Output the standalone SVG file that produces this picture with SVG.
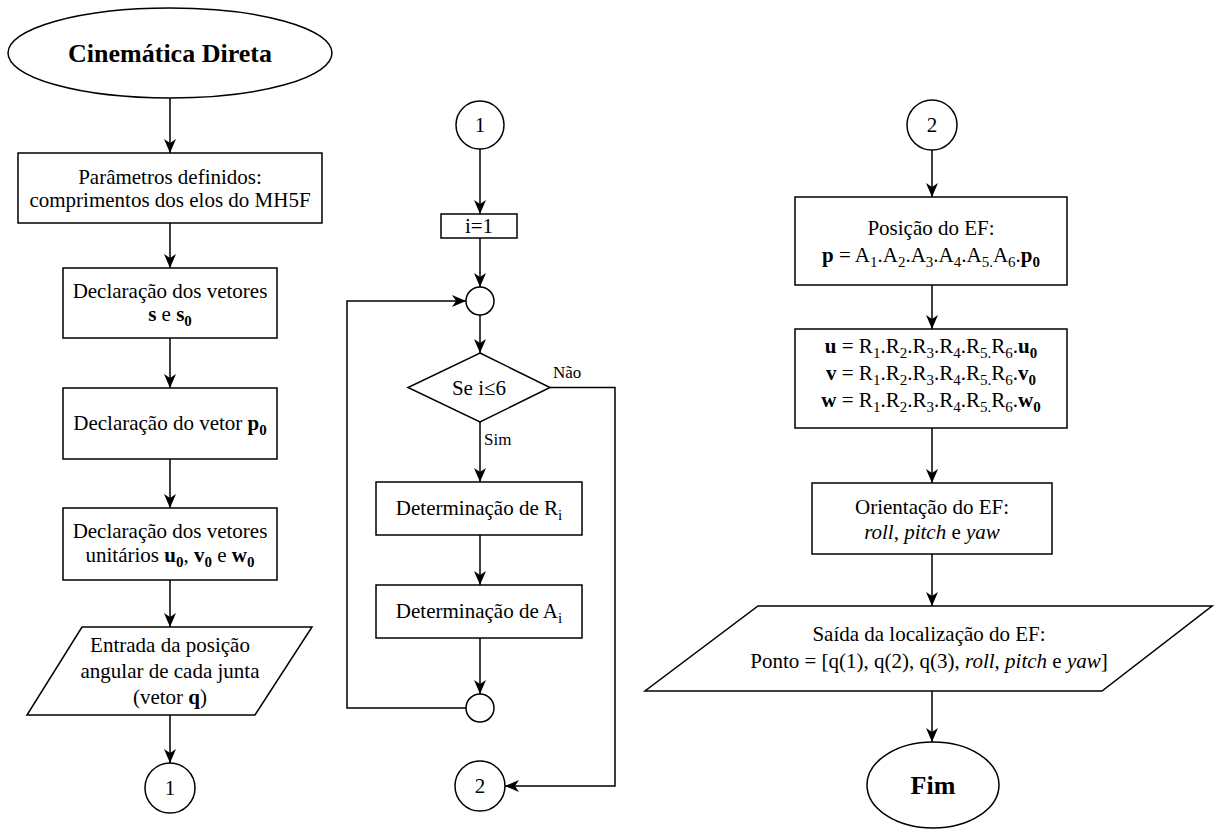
<svg xmlns="http://www.w3.org/2000/svg" width="1214" height="830" viewBox="0 0 1214 830" font-family="'Liberation Serif', 'DejaVu Serif', serif">
<style>
.n{fill:#fff;stroke:#000;stroke-width:1.5}
.c{fill:none;stroke:#000;stroke-width:1.5;marker-end:url(#arr)}
text{font-family:'Liberation Serif','DejaVu Serif',serif;font-size:21px;fill:#000;text-anchor:middle}
.b{font-weight:bold}
.i{font-style:italic}
.s{font-size:15px}
.lab{font-size:17px;text-anchor:start}
.t{font-size:26px;font-weight:bold}
</style>
<defs>
<marker id="arr" markerUnits="userSpaceOnUse" markerWidth="14" markerHeight="12" refX="14" refY="6" orient="auto" viewBox="0 0 14 12">
<path d="M0,0 L14,6 L0,12 L4,6 z" fill="#000"/>
</marker>
</defs>
<g id="connectors">
<line class="c" x1="170" y1="98" x2="170" y2="153"/>
<line class="c" x1="170" y1="223" x2="170" y2="268"/>
<line class="c" x1="170" y1="338" x2="170" y2="388"/>
<line class="c" x1="170" y1="459" x2="170" y2="508"/>
<line class="c" x1="170" y1="580" x2="170" y2="627"/>
<line class="c" x1="170" y1="715" x2="170" y2="763"/>
<line class="c" x1="480" y1="149" x2="480" y2="214"/>
<line class="c" x1="480" y1="238" x2="480" y2="287"/>
<line class="c" x1="480" y1="315" x2="480" y2="353"/>
<line class="c" x1="480" y1="422" x2="480" y2="482"/>
<line class="c" x1="480" y1="535" x2="480" y2="585"/>
<line class="c" x1="480" y1="638" x2="480" y2="694"/>
<polyline class="c" points="466,708 347,708 347,301 466,301"/>
<polyline class="c" points="550,387.5 615,387.5 615,786 505,786"/>
<line class="c" x1="932" y1="150" x2="932" y2="197"/>
<line class="c" x1="932" y1="285" x2="932" y2="329"/>
<line class="c" x1="932" y1="428" x2="932" y2="483"/>
<line class="c" x1="932" y1="554" x2="932" y2="606"/>
<line class="c" x1="932" y1="691" x2="932" y2="742"/>
<text class="lab" x="553" y="378">Não</text>
<text class="lab" x="484" y="445">Sim</text>
</g>
<g id="start">
<ellipse class="n" cx="170" cy="53" rx="162" ry="45"/>
<text class="t" x="170" y="62">Cinemática Direta</text>
</g>
<g id="params">
<rect class="n" x="18" y="153" width="304" height="70"/>
<text x="170" y="183.5">Parâmetros definidos:</text>
<text x="170" y="206.5">comprimentos dos elos do MH5F</text>
</g>
<g id="decl-s">
<rect class="n" x="63" y="268" width="214" height="70"/>
<text x="170" y="298">Declaração dos vetores</text>
<text x="170" y="321"><tspan class="b">s</tspan> e <tspan class="b">s</tspan><tspan class="b s" dy="5">0</tspan></text>
</g>
<g id="decl-p">
<rect class="n" x="63" y="388" width="214" height="71"/>
<text x="170" y="430">Declaração do vetor <tspan class="b">p</tspan><tspan class="b s" dy="5">0</tspan></text>
</g>
<g id="decl-uvw">
<rect class="n" x="63" y="508" width="214" height="72"/>
<text x="170" y="538">Declaração dos vetores</text>
<text x="170" y="562">unitários <tspan class="b">u</tspan><tspan class="b s" dy="5">0</tspan><tspan dy="-5">, </tspan><tspan class="b">v</tspan><tspan class="b s" dy="5">0</tspan><tspan dy="-5"> e </tspan><tspan class="b">w</tspan><tspan class="b s" dy="5">0</tspan></text>
</g>
<g id="input-q">
<polygon class="n" points="82,627 312,627 255,715 27,715"/>
<text x="170" y="652">Entrada da posição</text>
<text x="170" y="678">angular de cada junta</text>
<text x="170" y="704">(vetor <tspan class="b">q</tspan>)</text>
</g>
<g id="conn1-out">
<circle class="n" cx="170" cy="788" r="25"/>
<text x="170" y="795">1</text>
</g>
<g id="conn1-in">
<circle class="n" cx="480" cy="125" r="24"/>
<text x="480" y="132">1</text>
</g>
<g id="init-i">
<rect class="n" x="441" y="214" width="76" height="24"/>
<text x="479" y="233">i=1</text>
</g>
<g id="merge">
<circle class="n" cx="480" cy="301" r="14"/>
</g>
<g id="decision">
<polygon class="n" points="480,353 550,387.5 480,422 408,387.5"/>
<text x="479" y="395">Se i≤6</text>
</g>
<g id="det-R">
<rect class="n" x="376" y="482" width="206" height="53"/>
<text x="479" y="515">Determinação de R<tspan class="s" dy="5">i</tspan></text>
</g>
<g id="det-A">
<rect class="n" x="376" y="585" width="206" height="53"/>
<text x="479" y="618">Determinação de A<tspan class="s" dy="5">i</tspan></text>
</g>
<g id="loop-end">
<circle class="n" cx="480" cy="708" r="14"/>
</g>
<g id="conn2-out">
<circle class="n" cx="480" cy="786" r="25"/>
<text x="480" y="793">2</text>
</g>
<g id="conn2-in">
<circle class="n" cx="932" cy="125" r="25"/>
<text x="932" y="132">2</text>
</g>
<g id="pos-ef">
<rect class="n" x="795" y="197" width="272" height="88"/>
<text x="931" y="235">Posição do EF:</text>
<text x="931" y="262"><tspan class="b">p</tspan> = A<tspan class="s" dy="5">1</tspan><tspan dy="-5">.A</tspan><tspan class="s" dy="5">2</tspan><tspan dy="-5">.A</tspan><tspan class="s" dy="5">3</tspan><tspan dy="-5">.A</tspan><tspan class="s" dy="5">4</tspan><tspan dy="-5">.A</tspan><tspan class="s" dy="5">5.</tspan><tspan dy="-5">A</tspan><tspan class="s" dy="5">6</tspan><tspan dy="-5">.</tspan><tspan class="b">p</tspan><tspan class="b s" dy="5">0</tspan></text>
</g>
<g id="rot-uvw">
<rect class="n" x="795" y="329" width="272" height="99"/>
<text x="931" y="353"><tspan class="b">u</tspan> = R<tspan class="s" dy="5">1</tspan><tspan dy="-5">.R</tspan><tspan class="s" dy="5">2</tspan><tspan dy="-5">.R</tspan><tspan class="s" dy="5">3</tspan><tspan dy="-5">.R</tspan><tspan class="s" dy="5">4</tspan><tspan dy="-5">.R</tspan><tspan class="s" dy="5">5.</tspan><tspan dy="-5">R</tspan><tspan class="s" dy="5">6</tspan><tspan dy="-5">.</tspan><tspan class="b">u</tspan><tspan class="b s" dy="5">0</tspan></text>
<text x="931" y="380"><tspan class="b">v</tspan> = R<tspan class="s" dy="5">1</tspan><tspan dy="-5">.R</tspan><tspan class="s" dy="5">2</tspan><tspan dy="-5">.R</tspan><tspan class="s" dy="5">3</tspan><tspan dy="-5">.R</tspan><tspan class="s" dy="5">4</tspan><tspan dy="-5">.R</tspan><tspan class="s" dy="5">5.</tspan><tspan dy="-5">R</tspan><tspan class="s" dy="5">6</tspan><tspan dy="-5">.</tspan><tspan class="b">v</tspan><tspan class="b s" dy="5">0</tspan></text>
<text x="931" y="407"><tspan class="b">w</tspan> = R<tspan class="s" dy="5">1</tspan><tspan dy="-5">.R</tspan><tspan class="s" dy="5">2</tspan><tspan dy="-5">.R</tspan><tspan class="s" dy="5">3</tspan><tspan dy="-5">.R</tspan><tspan class="s" dy="5">4</tspan><tspan dy="-5">.R</tspan><tspan class="s" dy="5">5.</tspan><tspan dy="-5">R</tspan><tspan class="s" dy="5">6</tspan><tspan dy="-5">.</tspan><tspan class="b">w</tspan><tspan class="b s" dy="5">0</tspan></text>
</g>
<g id="orient-ef">
<rect class="n" x="812" y="483" width="240" height="71"/>
<text x="932" y="514">Orientação do EF:</text>
<text x="932" y="539"><tspan class="i">roll</tspan>, <tspan class="i">pitch</tspan> e <tspan class="i">yaw</tspan></text>
</g>
<g id="output">
<polygon class="n" points="758,606 1212,606 1102,691 645,691"/>
<text x="929" y="641">Saída da localização do EF:</text>
<text x="929" y="668">Ponto = [q(1), q(2), q(3), <tspan class="i">roll</tspan>, <tspan class="i">pitch</tspan> e <tspan class="i">yaw</tspan>]</text>
</g>
<g id="end">
<ellipse class="n" cx="933" cy="785" rx="66" ry="43"/>
<text class="t" x="933" y="794">Fim</text>
</g>
</svg>
